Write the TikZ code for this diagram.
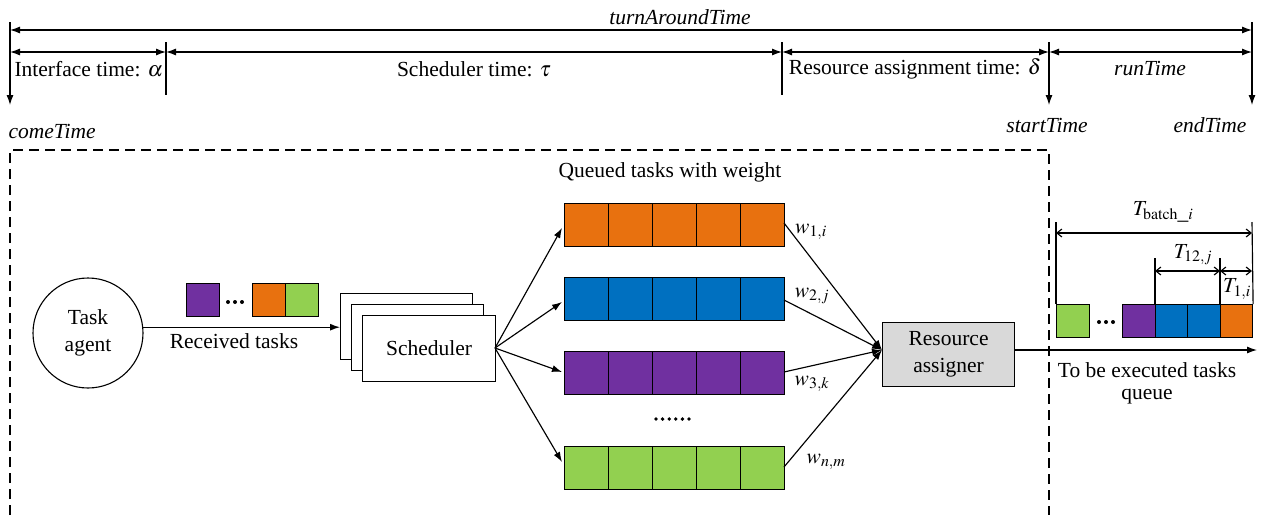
\documentclass[tikz,border=0pt]{standalone}
\usepackage{mathptmx}
\usepackage{fontspec}
\setmainfont{Liberation Serif}
\usetikzlibrary{arrows.meta,calc}
\definecolor{qorange}{HTML}{E8710F}
\definecolor{qblue}{HTML}{0070C0}
\definecolor{qpurple}{HTML}{7030A0}
\definecolor{qgreen}{HTML}{92D050}
\definecolor{agray}{HTML}{D9D9D9}
\tikzset{
  every node/.style={font=\fontsize{21.5}{24}\selectfont},
  line/.style={line width=1.15pt, draw=black},
  arr/.style={line, -{Latex[length=10pt,width=7pt]}},
  darr/.style={line, {Latex[length=10pt,width=7pt]}-{Latex[length=10pt,width=7pt]}},
  dimarr/.style={line, {Straight Barb[length=5pt,width=8pt]}-{Straight Barb[length=5pt,width=8pt]}},
  cell/.style={draw=black, line width=1.1pt, minimum width=44pt, minimum height=43pt, inner sep=0pt, anchor=north west},
  scell/.style={draw=black, line width=1.1pt, minimum width=33pt, minimum height=33pt, inner sep=0pt, anchor=north west},
  boxshape/.style={draw=black, line width=1.1pt, fill=white, inner sep=0pt, anchor=north west},
  dashedborder/.style={line, dash pattern=on 10pt off 6pt},
  dotmark/.style={circle, fill=black, inner sep=0pt, minimum size=4pt},
}
\begin{document}
\begin{tikzpicture}[x=1pt,y=-1pt]
\useasboundingbox (0,0) rectangle (1266,515);
% ---------- time axis ----------
\coordinate (c0t) at (10,22);   \coordinate (c0b) at (10,105);
\coordinate (c1t) at (166,42);  \coordinate (c1b) at (166,95);
\coordinate (c2t) at (782,42);  \coordinate (c2b) at (782,95);
\coordinate (c3t) at (1049,42); \coordinate (c3b) at (1049,105);
\coordinate (c4t) at (1252,22); \coordinate (c4b) at (1252,105);
\draw[arr] (c0t) -- (c0b);
\draw[line] (c1t) -- (c1b);
\draw[line] (c2t) -- (c2b);
\draw[arr] (c3t) -- (c3b);
\draw[arr] (c4t) -- (c4b);
\coordinate (ta) at (10,30); \coordinate (tb) at (1252,30);
\draw[darr] (ta) -- (tb);
\coordinate (s0) at (10,52); \coordinate (s1) at (166,52); \coordinate (s2) at (782,52);
\coordinate (s3) at (1049,52); \coordinate (s4) at (1252,52);
\draw[darr] (s0) -- (s1);
\draw[darr] (s1) -- (s2);
\draw[darr] (s2) -- (s3);
\draw[darr] (s3) -- (s4);
\node (tat) at (680,17) {\textit{turnAroundTime}};
\node[anchor=west] (it) at (11,69) {Interface time: $\alpha$};
\node (st) at (474,69) {Scheduler time: $\tau$};
\node (rt) at (915,69) {Resource assignment time: $\delta$};
\node (rut) at (1150,69) {\textit{runTime}};
\node[anchor=west] (ct) at (5,131) {\textit{comeTime}};
\node (stt) at (1047,125) {\textit{startTime}};
\node (et) at (1210,125) {\textit{endTime}};
% ---------- dashed region ----------
\coordinate (d1) at (10,515); \coordinate (d2) at (10,150);
\coordinate (d3) at (1049,150); \coordinate (d4) at (1049,515);
\draw[dashedborder] (d1) -- (d2) -- (d3) -- (d4);
\node (qt) at (670,172) {Queued tasks with weight};
% ---------- task agent ----------
\node[circle, draw=black, line width=1.1pt, minimum size=110pt, inner sep=0pt, align=center] (agent) at (88,333) {Task\\[3pt]agent};
% ---------- scheduler stack ----------
\node[boxshape, minimum width=132pt, minimum height=66pt] (sch3) at (340,293) {};
\node[boxshape, minimum width=132pt, minimum height=66pt] (sch2) at (351,304) {};
\node[boxshape, minimum width=133pt, minimum height=66pt] (sch1) at (362,315) {Scheduler};
\draw[arr] (agent.6) -- (agent.6 -| sch3.west);
\node (rtk) at (234,341) {Received tasks};
% small received squares
\node[scell, fill=qpurple] (r1) at (186,283) {};
\node[scell, fill=qorange] (r2) at (252,283) {};
\node[scell, fill=qgreen] (r3) at (285,283) {};
\foreach \k in {0,1,2}{ \node[dotmark] (rd\k) at ({228+7*\k},302) {}; }
% ---------- queues ----------
\foreach \r/\top/\col in {1/203/qorange, 2/277/qblue, 3/351/qpurple, 4/446/qgreen}{
  \foreach \c in {0,...,4}{
    \node[cell, fill=\col] (q\r c\c) at ({564+44*\c},\top) {};
  }
}
\foreach \k in {0,...,5}{ \node[dotmark, minimum size=3.8pt] (qd\k) at ({656+6.6*\k},419) {}; }
\coordinate (schout) at (495,348);
\coordinate (in1) at (562,228);
\coordinate (in2) at (562,302);
\coordinate (in3) at (562,372);
\coordinate (in4) at (562,462);
\foreach \i in {1,...,4}{ \draw[arr] (schout) -- (in\i); }
% ---------- resource assigner ----------
\node[draw=black, line width=1.1pt, fill=agray, minimum width=132pt, minimum height=64pt, inner sep=0pt, align=center, anchor=north west] (ra) at (882,322) {Resource\\[3pt]assigner};
\coordinate (raw) at (882,350);
\coordinate (o1) at (784,223);
\coordinate (o2) at (784,300);
\coordinate (o3) at (784,372);
\coordinate (o4) at (784,467);
\foreach \i in {1,...,4}{ \draw[arr] (o\i) -- (raw); }
\node (w1) at (811,232) {$w_{1,i}$};
\node (w2) at (812,296) {$w_{2,j}$};
\node (w3) at (812,384) {$w_{3,k}$};
\node (w4) at (826,462) {$w_{n,m}$};
% ---------- output ----------
\coordinate (outend) at (1257,350);
\draw[arr] (ra.east |- raw) -- (outend);
\node (tbe) at (1147,370) {To be executed tasks};
\node (tbq) at (1147,397) {queue};
% right queue
\node[scell, fill=qgreen] (e1) at (1056,304) {};
\foreach \k in {0,1,2}{ \node[dotmark] (ed\k) at ({1099+7*\k},322) {}; }
\node[scell, fill=qpurple] (e2) at (1122,304) {};
\node[scell, fill=qblue, minimum width=32pt] (e3) at (1155,304) {};
\node[scell, fill=qblue] (e4) at (1187,304) {};
\node[scell, fill=qorange, minimum width=32pt] (e5) at (1220,304) {};
% dimension lines
\coordinate (v1t) at (1056,222); \coordinate (v2t) at (1252,222);
\coordinate (v3t) at (1155,258); \coordinate (v4t) at (1220,258);
\draw[line] (v1t) -- (e1.north west);
\draw[line] (v2t) -- (e5.north east);
\draw[line] (v3t) -- (e3.north west);
\draw[line] (v4t) -- (e5.north west);
\coordinate (b1) at (1056,233); \coordinate (b2) at (1252,233);
\coordinate (m1) at (1155,271); \coordinate (m2) at (1220,271); \coordinate (m3) at (1252,271);
\draw[dimarr] (b1) -- (b2);
\draw[dimarr] (m1) -- (m2);
\draw[dimarr] (m2) -- (m3);
\node (tb) at (1163,212) {$T_{\mathrm{batch}\_i}$};
\node (t12) at (1193,255) {$T_{12,j}$};
\node (t1) at (1237,289) {$T_{1,i}$};
\end{tikzpicture}
\end{document}
